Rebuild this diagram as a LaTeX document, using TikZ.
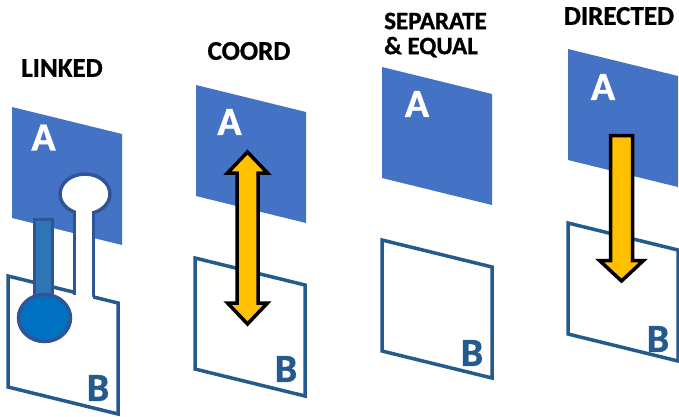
\documentclass[tikz,border=0pt]{standalone}
\usepackage{fontspec}
\setmainfont{Carlito}[BoldFeatures={FakeBold=1}]
\definecolor{PlaneBlue}{HTML}{4472C4}
\definecolor{PlaneEdge}{HTML}{255A8C}
\definecolor{LinkEdge}{HTML}{2F5597}
\definecolor{RodBlue}{HTML}{2E75B6}
\definecolor{BallBlue}{HTML}{0070C0}
\definecolor{ArrowGold}{HTML}{FFC000}
\newcommand{\sheet}[3][]{\path[#1] (#2,#3) -- ++(110,27) -- ++(0,111) -- ++(-110,-27) -- cycle;}

\begin{document}
\begin{tikzpicture}[x=1pt,y=-1pt,
    title/.style={font=\fontsize{27}{27}\selectfont\bfseries,align=left,inner sep=0pt},
    letterA/.style={font=\fontsize{40}{40}\selectfont\bfseries,white,inner sep=0pt},
    letterB/.style={font=\fontsize{40}{40}\selectfont\bfseries,PlaneEdge,inner sep=0pt},
    planeA/.style={fill=PlaneBlue},
    planeB/.style={draw=PlaneEdge,line width=3.5pt,fill=white},
    link/.style={draw=LinkEdge,line width=3.5pt},
    gold/.style={fill=ArrowGold,draw=black,line width=3.5pt}
  ]
    \useasboundingbox (0,0) rectangle (679,416);

    % linked
    \sheet[planeA]{12}{107}
    \sheet[planeB]{8}{276}
    \fill[white] (74.5,205) rectangle (93.3,299);
    \draw[link,fill=white] (85,194) ellipse (25 and 20);
    \fill[white] (76.3,200) rectangle (91.5,218);
    \draw[link] (74.5,212) -- (74.5,295);
    \draw[link] (93.3,212) -- (93.3,296.5);
    \draw[link,fill=RodBlue] (34.5,219.5) rectangle (52.5,303);
    \draw[link,fill=BallBlue] (44.5,318) ellipse (26 and 23.5);
    \node[title] (tLinked) at (62,68) {LINKED};
    \node[letterA] (aLinked) at (43.5,137.5) {A};
    \node[letterB] (bLinked) at (98,388) {B};

    % coord
    \sheet[planeA]{196}{85}
    \sheet[planeB]{195}{258}
    \draw[gold] (247.5,152) -- (267.5,173) -- (258,173) -- (258,303) -- (267.5,303)
      -- (247.5,324) -- (227.5,303) -- (237,303) -- (237,173) -- (227.5,173) -- cycle;
    \node[title] (tCoord) at (249,51) {COORD};
    \node[letterA] (aCoord) at (229.5,122) {A};
    \node[letterB] (bCoord) at (286,369) {B};

    % separate and equal
    \sheet[planeA]{382}{67}
    \sheet[planeB]{382}{240}
    \node[title,font=\fontsize{25}{25}\selectfont\bfseries,anchor=west] (tSep) at (384,35) {SEPARATE\\\& EQUAL};
    \node[letterA] (aSep) at (417,104) {A};
    \node[letterB] (bSep) at (472,353) {B};

    % directed
    \sheet[planeA]{568}{49}
    \sheet[planeB]{568}{223}
    \draw[gold] (610.5,135.5) -- (632.5,135.5) -- (632.5,260.5) -- (643.5,260.5)
      -- (621.5,281) -- (599.5,260.5) -- (610.5,260.5) -- cycle;
    \node[title] (tDir) at (619,16) {DIRECTED};
    \node[letterA] (aDir) at (603,87) {A};
    \node[letterB] (bDir) at (658,339) {B};
  \end{tikzpicture}
\end{document}
